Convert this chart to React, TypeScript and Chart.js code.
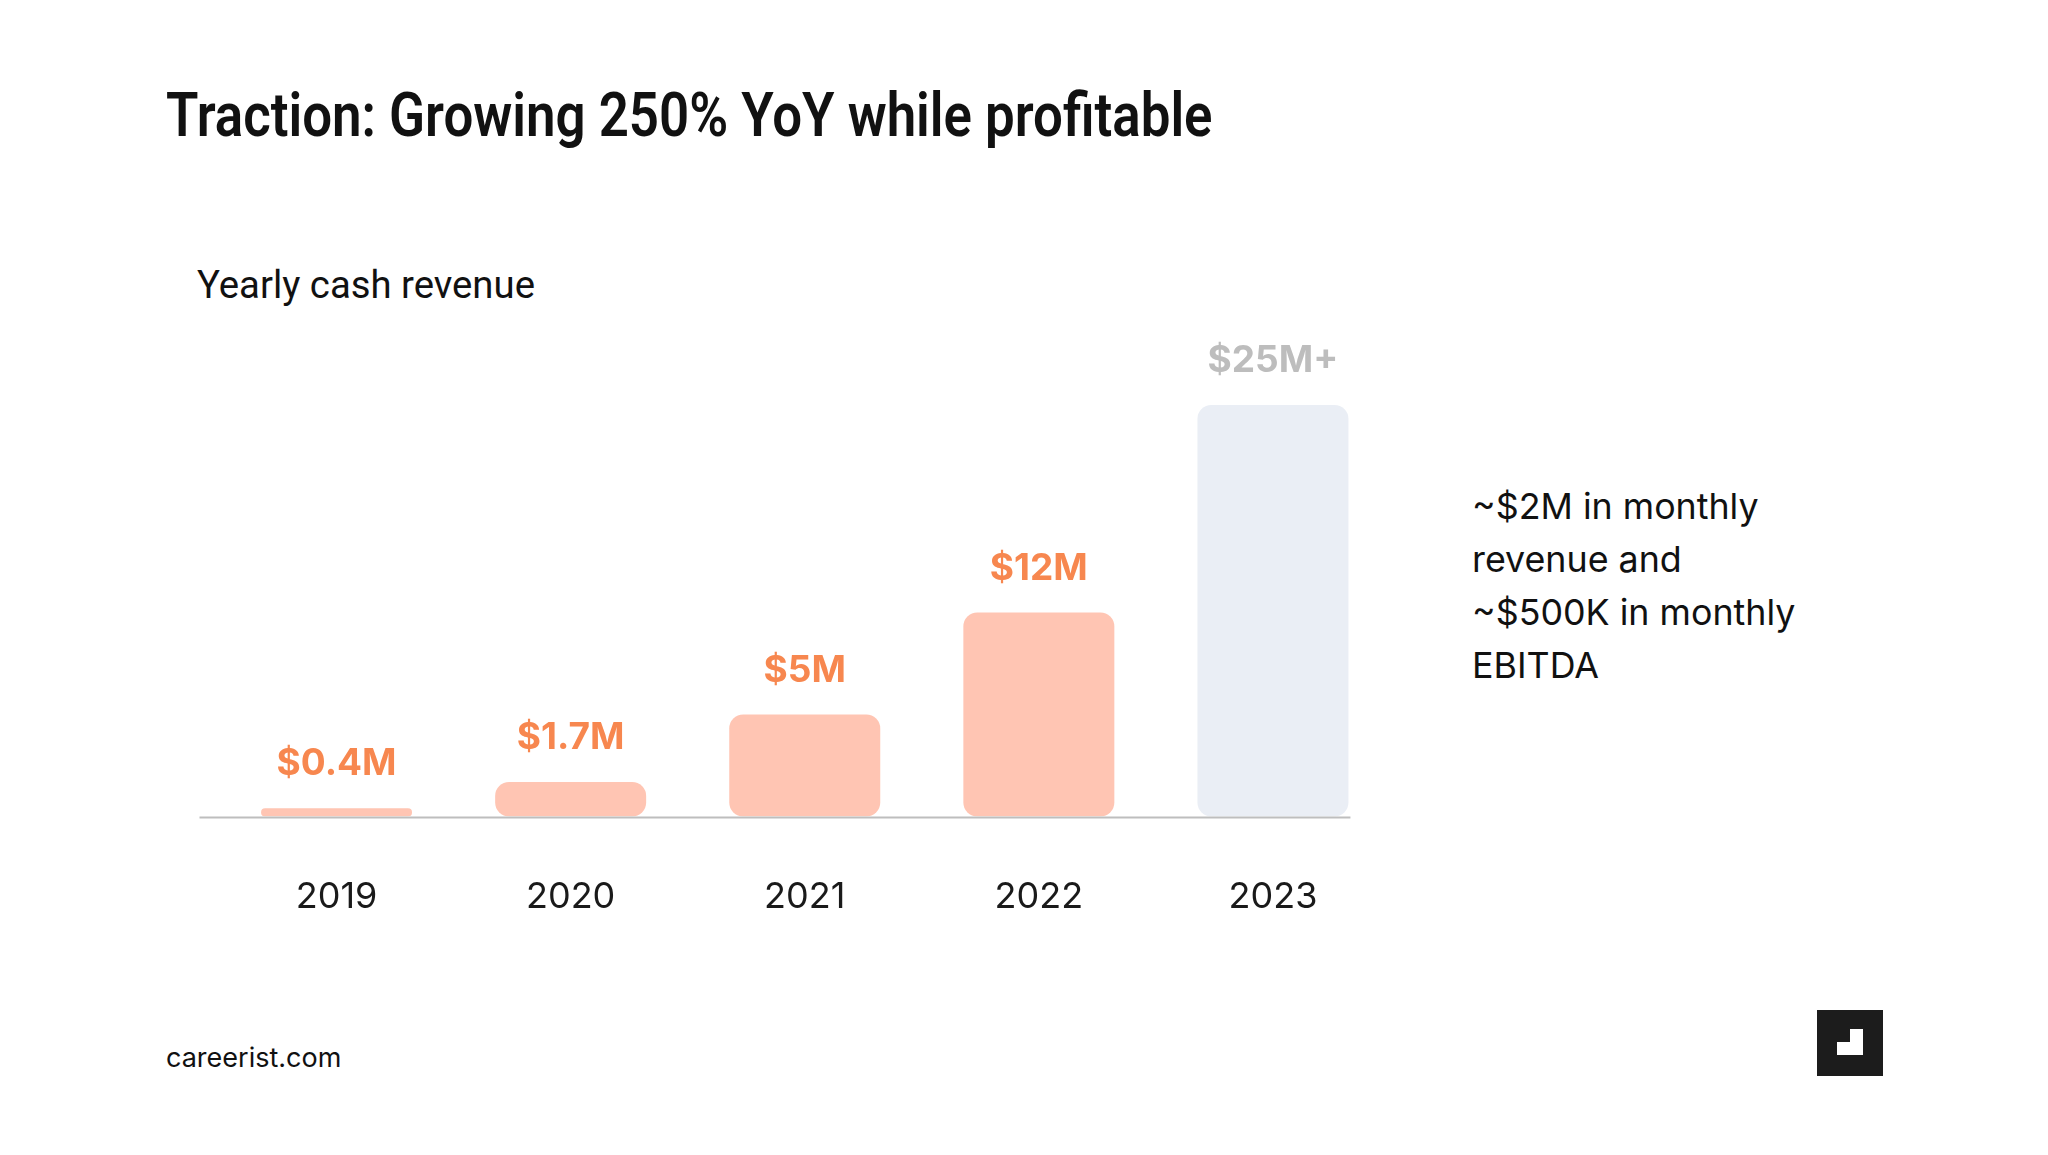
import React, { useEffect, useRef } from "react";
import { Chart, registerables } from "chart.js";

Chart.register(...registerables);

const categories = ["2019", "2020", "2021", "2022", "2023"];
const revenue = [0.5, 2.1, 6.2, 12.4, 25];
const valueLabels = ["$0.4M", "$1.7M", "$5M", "$12M", "$25M+"];
const sideNote = ["~$2M in monthly", "revenue and", "~$500K in monthly", "EBITDA"];

const SALMON = "#FFC5B3";
const PALE = "#EAEEF5";
const ORANGE = "#F7874F";
const GREY_LABEL = "#BDBDBD";

const axisLinePlugin = {
  id: "axisLine",
  afterDatasetsDraw(chart: any) {
    const { ctx, chartArea } = chart;
    const meta = chart.getDatasetMeta(0);
    const last: any = meta.data[meta.data.length - 1];
    const right = last.x + last.width / 2 + 2;
    ctx.save();
    ctx.strokeStyle = "#BEBEBE";
    ctx.lineWidth = 2;
    ctx.beginPath();
    ctx.moveTo(chartArea.left - 20, chartArea.bottom + 1);
    ctx.lineTo(right, chartArea.bottom + 1);
    ctx.stroke();
    ctx.restore();
  },
};

const valueLabelPlugin = {
  id: "valueLabels",
  afterDatasetsDraw(chart: any) {
    const { ctx } = chart;
    const meta = chart.getDatasetMeta(0);
    ctx.save();
    ctx.font = "700 37px Inter";
    ctx.textAlign = "center";
    ctx.textBaseline = "middle";
    meta.data.forEach((el: any, i: number) => {
      ctx.fillStyle = i === meta.data.length - 1 ? GREY_LABEL : ORANGE;
      ctx.fillText(valueLabels[i], el.x, el.y - 44);
    });
    ctx.restore();
  },
};

function RevenueChart() {
  const ref = useRef<HTMLCanvasElement | null>(null);
  useEffect(() => {
    if (!ref.current) return;
    const n = revenue.length;
    const chart = new Chart(ref.current, {
      type: "bar",
      data: {
        labels: categories,
        datasets: [
          {
            data: revenue,
            backgroundColor: (c: any) => (c.dataIndex === n - 1 ? PALE : SALMON),
            borderRadius: 14,
            borderSkipped: false,
            barPercentage: 0.645,
            categoryPercentage: 1,
          },
        ],
      },
      options: {
        animation: false,
        responsive: true,
        maintainAspectRatio: false,
        layout: { padding: { left: 39.5, right: 30, top: 105, bottom: 4.3 } },
        plugins: { legend: { display: false }, tooltip: { enabled: false } },
        scales: {
          x: {
            grid: { display: false, drawTicks: false },
            border: { display: false },
            ticks: {
              color: "#1A1A1A",
              font: { family: "Inter", size: 36 },
              padding: 58.6,
            },
          },
          y: { display: false, min: 0, max: 25 },
        },
      },
      plugins: [axisLinePlugin, valueLabelPlugin],
    });
    return () => chart.destroy();
  }, []);
  return (
    <div style={{ position: "absolute", left: 180, top: 300, width: 1240, height: 681.2 }}>
      <canvas ref={ref} />
    </div>
  );
}

export default function App() {
  return (
    <div
      style={{
        position: "absolute",
        left: 0,
        top: 0,
        width: 2048,
        height: 1155,
        background: "#FFFFFF",
        overflow: "hidden",
      }}
    >
      <div
        style={{
          position: "absolute",
          left: 166,
          top: 85,
          fontFamily: "Roboto",
          fontWeight: 600,
          fontSize: 61,
          lineHeight: 1,
          color: "#111111",
          whiteSpace: "nowrap",
          transform: "scaleX(0.866)",
          transformOrigin: "0 0",
        }}
      >
        Traction: Growing 250% YoY while profitable
      </div>
      <div
        style={{
          position: "absolute",
          left: 197,
          top: 266,
          fontFamily: "Roboto",
          fontSize: 38.3,
          lineHeight: 1,
          color: "#111111",
          whiteSpace: "nowrap",
        }}
      >
        Yearly cash revenue
      </div>
      <RevenueChart />
      <div
        style={{
          position: "absolute",
          left: 1472,
          top: 480,
          fontFamily: "Inter",
          fontSize: 35.8,
          lineHeight: "53px",
          color: "#111111",
          whiteSpace: "nowrap",
        }}
      >
        {sideNote.map((line, i) => (
          <div key={i}>{line}</div>
        ))}
      </div>
      <div
        style={{
          position: "absolute",
          left: 166,
          top: 1044,
          fontFamily: "Inter",
          fontSize: 27,
          lineHeight: 1,
          color: "#111111",
          whiteSpace: "nowrap",
        }}
      >
        careerist.com
      </div>
      <svg
        style={{ position: "absolute", left: 1817, top: 1010 }}
        width={66}
        height={66}
        viewBox="0 0 66 66"
      >
        <rect x={0} y={0} width={66} height={66} fill="#1C1C1C" />
        <path d="M33 19 H46 V45 H20 V32 H33 Z" fill="#FFFFFF" />
      </svg>
    </div>
  );
}
